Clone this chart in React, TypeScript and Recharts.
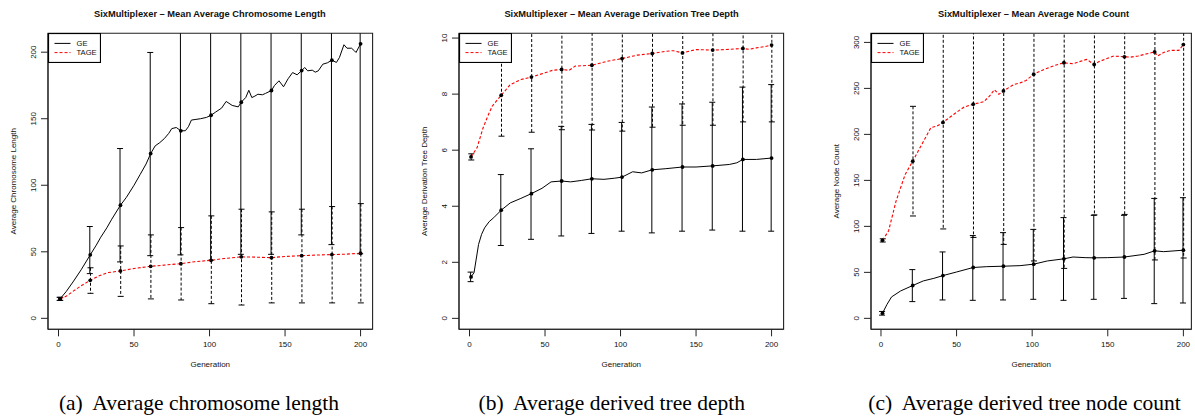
import React from "react";
import { ComposedChart, Line, Bar, XAxis, YAxis, Legend, ReferenceArea } from "recharts";

// generations where R drew the mean points and the error bars
const generations = [1, 21, 41, 61, 81, 101, 121, 141, 161, 181, 200];
const xTicks = [0, 50, 100, 150, 200];

// (a) chromosome length
const lengthGE: [number, number][] = [
  [1, 14.6], [5, 20], [10, 28], [15, 36.5], [21, 47.7], [25, 55], [28, 61], [32, 68], [35, 74], [41, 85],
  [45, 91], [50, 100], [54, 108], [58, 116], [61, 123.8], [64, 129.6], [67, 132], [70, 135], [73, 139],
  [75, 142.6], [78, 143.4], [81, 140.9], [84, 141], [86, 144], [88, 149], [91, 149.5], [94, 150], [98, 151],
  [101, 152.6], [104, 155], [108, 158], [111, 163], [115, 160], [119, 158.9], [121, 162.4], [124, 166],
  [126, 171.4], [128, 165.9], [130, 167], [132, 168.4], [135, 168], [137, 169], [141, 171.2], [143, 175],
  [146, 178.5], [149, 174], [152, 180], [155, 184.7], [158, 183], [161, 186.2], [163, 188.5], [165, 186],
  [168, 186.5], [170, 185], [172, 186], [175, 191], [178, 192], [181, 194], [184, 192.3], [186, 196],
  [189, 205.6], [191, 203], [194, 203], [196, 201], [197, 199.8], [200, 206.3],
];
const lengthTAGE: [number, number][] = [
  [1, 14.6], [5, 16.5], [10, 20.6], [15, 24.5], [21, 28.6], [27, 32], [33, 34.4], [41, 35.6], [50, 37.5],
  [61, 39.1], [70, 40], [81, 41.1], [90, 42.5], [101, 43.6], [110, 45], [121, 46.2], [130, 46], [141, 45.6],
  [150, 46.5], [161, 47.1], [170, 47.5], [181, 47.9], [190, 48.2], [200, 48.9],
];
const lengthGEMean = [14.6, 47.7, 85, 123.8, 140.9, 152.6, 162.4, 171.2, 186.2, 194, 206.3];
const lengthGELow = [13.5, 33.6, 42.4, 47.1, 47.7, 43.6, 48.1, 48.1, 62.7, 55.4, 48.5];
const lengthGEHigh = [15.8, 69, 127.6, 199.8, 235, 250, 265, 278, 290, 300, 318];
const lengthTAGEMean = [14.6, 28.6, 35.6, 39.1, 41.1, 43.6, 46.2, 45.6, 47.1, 47.9, 48.9];
const lengthTAGELow = [13.5, 18.8, 16.5, 14.6, 13.8, 11, 10, 11.6, 11.6, 11.6, 11.6];
const lengthTAGEHigh = [15.8, 38, 54.4, 62.7, 68.2, 77, 82, 80, 82, 84, 86.2];

// (b) derivation tree depth
const depthGE: [number, number][] = [
  [1, 1.48], [3, 1.63], [6, 2.64], [8, 3.0], [10, 3.23], [13, 3.45], [16, 3.59], [21, 3.86], [27, 4.12],
  [34, 4.28], [41, 4.45], [48, 4.64], [54, 4.87], [61, 4.9], [67, 4.87], [74, 4.92], [81, 4.98], [89, 4.96],
  [96, 5.0], [101, 5.04], [108, 5.23], [114, 5.19], [121, 5.3], [130, 5.34], [141, 5.4], [150, 5.4],
  [161, 5.44], [172, 5.49], [177, 5.55], [181, 5.67], [190, 5.67], [200, 5.72],
];
const depthTAGE: [number, number][] = [
  [1, 5.76], [5, 6.09], [9, 6.8], [12, 7.2], [15, 7.57], [21, 7.96], [27, 8.34], [34, 8.52], [41, 8.61],
  [50, 8.76], [55, 8.85], [61, 8.88], [66, 8.85], [70, 9.0], [81, 9.03], [92, 9.18], [101, 9.27], [111, 9.39],
  [121, 9.45], [130, 9.53], [135, 9.55], [141, 9.47], [150, 9.59], [161, 9.57], [170, 9.59], [181, 9.63],
  [185, 9.6], [190, 9.65], [196, 9.7], [200, 9.75],
];
const depthGEMean = [1.48, 3.86, 4.45, 4.9, 4.98, 5.04, 5.3, 5.4, 5.44, 5.67, 5.72];
const depthGELow = [1.31, 2.6, 2.82, 2.94, 3.03, 3.11, 3.05, 3.11, 3.15, 3.11, 3.11];
const depthGEHigh = [1.65, 5.13, 6.05, 6.85, 6.92, 6.99, 7.54, 7.65, 7.71, 8.25, 8.34];
const depthTAGEMean = [5.76, 7.96, 8.61, 8.88, 9.03, 9.27, 9.45, 9.47, 9.57, 9.63, 9.75];
const depthTAGELow = [5.65, 6.5, 6.64, 6.73, 6.72, 6.68, 6.82, 6.89, 6.89, 7.01, 7.01];
const depthTAGEHigh = [5.87, 9.44, 10.5, 10.8, 10.9, 11.2, 11.4, 11.5, 11.6, 11.7, 11.9];

// (c) node count
const nodesGE: [number, number][] = [
  [1, 5.6], [4, 15.2], [7, 23.3], [13, 29.8], [21, 35.7], [28, 40.7], [35, 43.5], [41, 46.5], [50, 50.4],
  [61, 55.3], [70, 56.2], [81, 56.7], [92, 57.3], [101, 58.9], [110, 62.4], [121, 64.7], [127, 66.7],
  [135, 66], [141, 65.8], [150, 66], [161, 66.7], [174, 69.6], [181, 73.4], [187, 72.5], [200, 74.1],
];
const nodesTAGE: [number, number][] = [
  [1, 84.8], [5, 95], [10, 127.6], [16, 156.5], [21, 170.9], [27, 189.1], [33, 207.3], [37, 209], [41, 213],
  [48, 221.7], [55, 229.8], [61, 232.8], [68, 235.5], [72, 242], [75, 248.6], [78, 243.5], [81, 247.3],
  [88, 254.3], [92, 256], [96, 258.7], [101, 265.4], [108, 270.7], [115, 275], [121, 277.9], [127, 276.8],
  [131, 279], [136, 281.5], [141, 276], [144, 279], [148, 281.5], [154, 285.2], [161, 284.3], [165, 284],
  [170, 285.2], [176, 287.7], [181, 289.7], [183, 285.2], [187, 289], [191, 291.3], [197, 291.3], [200, 297.6],
];
const nodesGEMean = [5.6, 35.7, 46.5, 55.3, 56.7, 58.9, 64.7, 65.8, 66.7, 73.4, 74.1];
const nodesGELow = [3.5, 18.2, 20, 19.6, 20, 20.7, 19.6, 20.7, 21.7, 16, 16.7];
const nodesGEHigh = [7.5, 53, 72.2, 90, 93.2, 96.7, 109.5, 112, 112, 130.4, 131.2];
const nodesTAGEMean = [84.8, 170.9, 213, 232.8, 247.3, 265.4, 277.9, 276, 284.3, 289.7, 297.6];
const nodesTAGELow = [83, 111.3, 97.2, 88, 80.4, 62.4, 54.3, 112.5, 113, 63.5, 65.6];
const nodesTAGEHigh = [86.5, 230.5, 330, 350, 370, 380, 390, 400, 410, 420, 430];

const SANS = '"Liberation Sans", Arial, Helvetica, sans-serif';
const SERIF = '"Liberation Serif", "Times New Roman", serif';
const INK = "#111";
const RED = "#ff0000";
const DASH = "3 2";

const Y_AXIS_W = 40;
const M_LEFT = 8;
const CAP = 3;

const series = [
  { name: "GE", color: "#000", dash: undefined as string | undefined },
  { name: "TAGE", color: RED, dash: DASH },
];

function toLine(points: [number, number][]) {
  return points.map(([gen, value]) => ({ gen, value }));
}

function Whisker(props: any) {
  const { x, y, width, height, dashed } = props;
  if (x == null || y == null || !isFinite(y) || !isFinite(height)) return null;
  const top = Math.min(y, y + height);
  const bottom = Math.max(y, y + height);
  const cx = x + (width || 0) / 2;
  return (
    <g stroke="#000" strokeWidth={1} fill="none">
      <line x1={cx} y1={top} x2={cx} y2={bottom} strokeDasharray={dashed ? DASH : undefined} />
      <line x1={cx - CAP} y1={top} x2={cx + CAP} y2={top} />
      <line x1={cx - CAP} y1={bottom} x2={cx + CAP} y2={bottom} />
    </g>
  );
}

function YTick(props: any) {
  const { x, y, payload } = props;
  return (
    <text x={x} y={y} transform={`rotate(-90 ${x} ${y})`} textAnchor="middle" fontSize={8} fill={INK} fontFamily={SANS}>
      {payload.value}
    </text>
  );
}

function LegendBox({ payload }: any) {
  const items = (payload || []).filter((p: any) => series.some((s) => s.name === p.value));
  return (
    <svg width={53} height={30} style={{ display: "block" }}>
      <rect x={0.5} y={0.5} width={52} height={29} fill="#fff" stroke="#000" strokeWidth={1.2} />
      {items.map((p: any, i: number) => {
        const s = series.find((e) => e.name === p.value)!;
        const cy = 10.4 + i * 9.2;
        return (
          <g key={p.value}>
            <line x1={6.5} y1={cy} x2={22.5} y2={cy} stroke={s.color} strokeWidth={1} strokeDasharray={s.dash} />
            <text x={28.5} y={cy + 2.7} fontSize={7.6} fill={INK} fontFamily={SANS}>
              {p.value}
            </text>
          </g>
        );
      })}
    </svg>
  );
}

type PanelProps = {
  plotLeft: number;
  plotWidth: number;
  xDomain: [number, number];
  title: string;
  yLabel: string;
  yDomain: [number, number];
  yTicks: number[];
  geLine: [number, number][];
  tageLine: [number, number][];
  geMean: number[];
  geLow: number[];
  geHigh: number[];
  tageMean: number[];
  tageLow: number[];
  tageHigh: number[];
};

function Panel(p: PanelProps) {
  const rows = generations.map((gen, i) => ({
    gen,
    geMean: p.geMean[i],
    tageMean: p.tageMean[i],
    geRange: [p.geLow[i], p.geHigh[i]],
    tageRange: [p.tageLow[i], p.tageHigh[i]],
  }));
  const chartW = M_LEFT + Y_AXIS_W + p.plotWidth + 2;
  const titleW = 324.6;
  return (
    <>
      <div
        style={{
          position: "absolute",
          left: p.plotLeft - 20,
          top: 9.8,
          width: titleW + 40,
          textAlign: "center",
          fontFamily: SANS,
          fontWeight: "bold",
          fontSize: 9.3,
          lineHeight: 1,
          color: INK,
          whiteSpace: "nowrap",
        }}
      >
        {p.title}
      </div>
      <div style={{ position: "absolute", left: p.plotLeft - M_LEFT - Y_AXIS_W, top: 0 }}>
        <ComposedChart
          width={chartW}
          height={380}
          data={rows}
          margin={{ top: 33.3, right: 2, bottom: 5.7, left: M_LEFT }}
        >
          <XAxis
            dataKey="gen"
            type="number"
            domain={p.xDomain}
            ticks={xTicks}
            allowDataOverflow
            height={45}
            tickSize={7}
            tickMargin={5.4}
            stroke="#222"
            tick={{ fontSize: 8, fill: INK, fontFamily: SANS }}
            label={{ value: "Generation", position: "insideBottom", offset: 7.6, fontSize: 8, fill: INK, fontFamily: SANS }}
          />
          <YAxis
            type="number"
            domain={p.yDomain}
            ticks={p.yTicks}
            allowDataOverflow
            width={Y_AXIS_W}
            tickSize={7}
            tickMargin={4.6}
            stroke="#222"
            tick={<YTick />}
            label={{
              value: p.yLabel,
              angle: -90,
              position: "insideLeft",
              offset: 5.2,
              fontSize: 8,
              fill: INK,
              fontFamily: SANS,
              style: { textAnchor: "middle" },
            }}
          />
          <ReferenceArea
            x1={p.xDomain[0]}
            x2={p.xDomain[1]}
            y1={p.yDomain[0]}
            y2={p.yDomain[1]}
            fill="none"
            stroke="#222"
            strokeWidth={1.1}
            ifOverflow="visible"
          />
          <Line
            data={toLine(p.geLine)}
            dataKey="value"
            name="GE"
            stroke="#000"
            strokeWidth={1}
            dot={false}
            isAnimationActive={false}
          />
          <Line
            data={toLine(p.tageLine)}
            dataKey="value"
            name="TAGE"
            stroke={RED}
            strokeWidth={1.1}
            strokeDasharray={DASH}
            dot={false}
            isAnimationActive={false}
          />
          <Bar
            dataKey="geRange"
            barSize={6}
            legendType="none"
            isAnimationActive={false}
            shape={(s: any) => <Whisker {...s} />}
          />
          <Bar
            dataKey="tageRange"
            barSize={6}
            legendType="none"
            isAnimationActive={false}
            shape={(s: any) => <Whisker {...s} dashed />}
          />
          <Line dataKey="geMean" stroke="none" legendType="none" dot={{ r: 1.9, fill: "#000", stroke: "none" }} isAnimationActive={false} />
          <Line dataKey="tageMean" stroke="none" legendType="none" dot={{ r: 1.9, fill: "#000", stroke: "none" }} isAnimationActive={false} />
          <Legend
            layout="horizontal"
            align="center"
            verticalAlign="middle"
            content={<LegendBox />}
            wrapperStyle={{ left: M_LEFT + Y_AXIS_W, top: 33.3, width: 53, height: 30 }}
          />
        </ComposedChart>
      </div>
    </>
  );
}

function Caption({ center, text }: { center: number; text: string }) {
  return (
    <div
      style={{
        position: "absolute",
        left: center - 220,
        top: 393.1,
        width: 440,
        textAlign: "center",
        fontFamily: SERIF,
        fontSize: 21.5,
        lineHeight: 1,
        color: "#000",
        whiteSpace: "pre",
      }}
    >
      {text}
    </div>
  );
}

export default function App() {
  return (
    <div style={{ position: "absolute", left: 0, top: 0, width: 1195, height: 418, overflow: "hidden", background: "#fff" }}>
      <Panel
        plotLeft={47.6}
        plotWidth={324.6}
        xDomain={[-6.96, 207.96]}
        title="SixMultiplexer – Mean Average Chromosome Length"
        yLabel="Average Chromosome Length"
        yDomain={[-8.24, 214.2]}
        yTicks={[0, 50, 100, 150, 200]}
        geLine={lengthGE}
        tageLine={lengthTAGE}
        geMean={lengthGEMean}
        geLow={lengthGELow}
        geHigh={lengthGEHigh}
        tageMean={lengthTAGEMean}
        tageLow={lengthTAGELow}
        tageHigh={lengthTAGEHigh}
      />
      <Panel
        plotLeft={459.3}
        plotWidth={324.6}
        xDomain={[-6.96, 207.96]}
        title="SixMultiplexer – Mean Average Derivation Tree Depth"
        yLabel="Average Derivation Tree Depth"
        yDomain={[-0.39, 10.17]}
        yTicks={[0, 2, 4, 6, 8, 10]}
        geLine={depthGE}
        tageLine={depthTAGE}
        geMean={depthGEMean}
        geLow={depthGELow}
        geHigh={depthGEHigh}
        tageMean={depthTAGEMean}
        tageLow={depthTAGELow}
        tageHigh={depthTAGEHigh}
      />
      <Panel
        plotLeft={871.3}
        plotWidth={320.4}
        xDomain={[-6.6, 205.3]}
        title="SixMultiplexer – Mean Average Node Count"
        yLabel="Average Node Count"
        yDomain={[-11.9, 309.9]}
        yTicks={[0, 50, 100, 150, 200, 250, 300]}
        geLine={nodesGE}
        tageLine={nodesTAGE}
        geMean={nodesGEMean}
        geLow={nodesGELow}
        geHigh={nodesGEHigh}
        tageMean={nodesTAGEMean}
        tageLow={nodesTAGELow}
        tageHigh={nodesTAGEHigh}
      />
      <Caption center={199} text="(a)  Average chromosome length" />
      <Caption center={611.7} text="(b)  Average derived tree depth" />
      <Caption center={1024.5} text="(c)  Average derived tree node count" />
    </div>
  );
}
